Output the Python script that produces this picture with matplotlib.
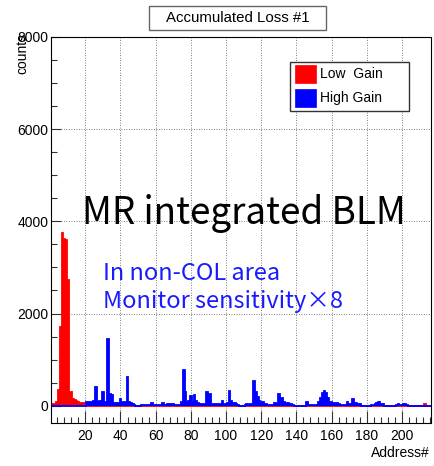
import matplotlib.pyplot as plt
import numpy as np
from matplotlib.patches import Rectangle
from matplotlib.ticker import MultipleLocator

# datos: cuentas por dirección (bins 1..216)
low_gain = ([40, 40, 45, 80, 350, 1700, 3750, 3620, 3600, 2720,
             300, 290, 140, 125, 100, 75, 60, 50, 55, 50]
            + [0] * 192 + [30] + [0] * 3)

high_gain = [
    0, 0, 0, 0, 0, 0, 0, 0, 0, 0, 0, 0, 0, 0, 0, 0, 0, 0, 0, 0,
    85, 85, 90, 80, 100, 400, 90, 110, 100, 290, 90, 90, 1440, 265, 235, 65, 65, 60, 60, 140,
    90, 85, 85, 620, 90, 50, 45, 5, 0, 0, 0, 25, 25, 20, 25, 10, 15, 65, 20, 20,
    25, 15, 20, 65, 15, 10, 45, 45, 40, 40, 10, 10, 15, 20, 90, 770, 290, 65, 110, 210,
    90, 225, 110, 65, 30, 35, 30, 40, 290, 65, 245, 45, 40, 40, 45, 40, 45, 108, 45, 40,
    50, 310, 110, 65, 60, 43, 5, 0, 0, 0, 5, 30, 25, 30, 30, 535, 290, 195, 108, 65,
    70, 45, 40, 15, 15, 15, 20, 50, 45, 255, 108, 160, 70, 55, 50, 45, 40, 5, 0, 0,
    0, 0, 0, 0, 0, 90, 15, 15, 15, 15, 15, 15, 72, 160, 267, 325, 282, 160, 72, 72,
    50, 55, 50, 45, 15, 15, 15, 15, 90, 36, 36, 150, 50, 50, 36, 36, 0, 0, 0, 0,
    0, 0, 22, 25, 35, 50, 72, 36, 30, 0, 0, 0, 0, 0, 0, 0, 15, 36, 15, 15,
    43, 40, 10, 0, 0, 0, 0, 0, 0, 0, 0, 0, 0, 0, 0, 0,
]

series_labels = ["Low  Gain", "High Gain"]
series_colors = ["#ff0000", "#0000ff"]
title = "Accumulated Loss #1"
x_title = "Address#"
y_title = "counts"
big_text = "MR integrated BLM"
note_lines = ["In non-COL area", "Monitor sensitivity×8"]

edges = np.arange(0.5, len(high_gain) + 1.0, 1.0)

W, H = 434, 466
fig = plt.figure(figsize=(W / 100, H / 100), dpi=100)
ax = fig.add_axes([51 / W, 43 / H, 380 / W, 386 / H])

# histogramas estilo ROOT
for vals, col in zip([low_gain, high_gain], series_colors):
    ax.stairs(vals, edges, fill=True, color=col, lw=0)
    ax.stairs(vals, edges, color=col, lw=1.3)

ax.set_xlim(0.5, 216.5)
ax.set_ylim(-375, 8000)

ax.xaxis.set_major_locator(MultipleLocator(20))
ax.xaxis.set_minor_locator(MultipleLocator(4))
ax.yaxis.set_major_locator(MultipleLocator(2000))
ax.yaxis.set_minor_locator(MultipleLocator(500))
ax.set_xticks(np.arange(20, 201, 20))
ax.tick_params(which="both", direction="in", top=False, right=False,
               color="#333333", width=0.8)
ax.tick_params(axis="x", which="major", length=9, pad=4, labelsize=10)
ax.tick_params(axis="x", which="minor", length=4.5)
ax.tick_params(axis="y", which="major", length=7, pad=2, labelsize=10)
ax.tick_params(axis="y", which="minor", length=4)
for lab in ax.get_xticklabels() + ax.get_yticklabels():
    lab.set_family("Liberation Sans")

ax.grid(True, which="major", color="#555555", lw=0.6, linestyle=(0, (1, 2)))
ax.set_axisbelow(True)
for s in ax.spines.values():
    s.set_linewidth(0.8)

# títulos de ejes
fig.text(22 / W, 1 - 33 / H, y_title, rotation=90, ha="center", va="top",
         fontsize=10, family="Liberation Sans")
fig.text(430 / W, 1 - 453 / H, x_title, ha="right", va="center",
         fontsize=10, family="Liberation Sans")

# caja del título
fig.patches.append(Rectangle((149 / W, 1 - 30 / H), 177 / W, 24 / H,
                             transform=fig.transFigure, facecolor="white",
                             edgecolor="#666666", lw=1))
fig.text(237.5 / W, 1 - 18 / H, title, ha="center", va="center",
         fontsize=10.8, family="Liberation Sans")

# leyenda
fig.patches.append(Rectangle((290 / W, 1 - 111 / H), 119 / W, 49 / H,
                             transform=fig.transFigure, facecolor="white",
                             edgecolor="#333333", lw=1))
for i, (lab, col) in enumerate(zip(series_labels, series_colors)):
    yc = 74 + 24 * i
    fig.patches.append(Rectangle((295 / W, 1 - (yc + 9) / H), 21 / W, 18 / H,
                                 transform=fig.transFigure, facecolor=col,
                                 edgecolor=col, lw=0.5))
    fig.text(320 / W, 1 - yc / H, lab, ha="left", va="center",
             fontsize=10, family="Liberation Sans")

# textos grandes
jp = ["Noto Sans CJK JP", "DejaVu Sans"]
fig.text(82 / W, 1 - 224 / H, big_text, ha="left", va="baseline",
         fontsize=26.5, family=jp, color="black")
fig.text(103 / W, 1 - 280 / H, note_lines[0], ha="left", va="baseline",
         fontsize=17, family=jp, color="#1a1aff")
fig.text(103 / W, 1 - 308 / H, note_lines[1], ha="left", va="baseline",
         fontsize=17, family=jp, color="#1a1aff")

fig.savefig("out.png", dpi=100)
